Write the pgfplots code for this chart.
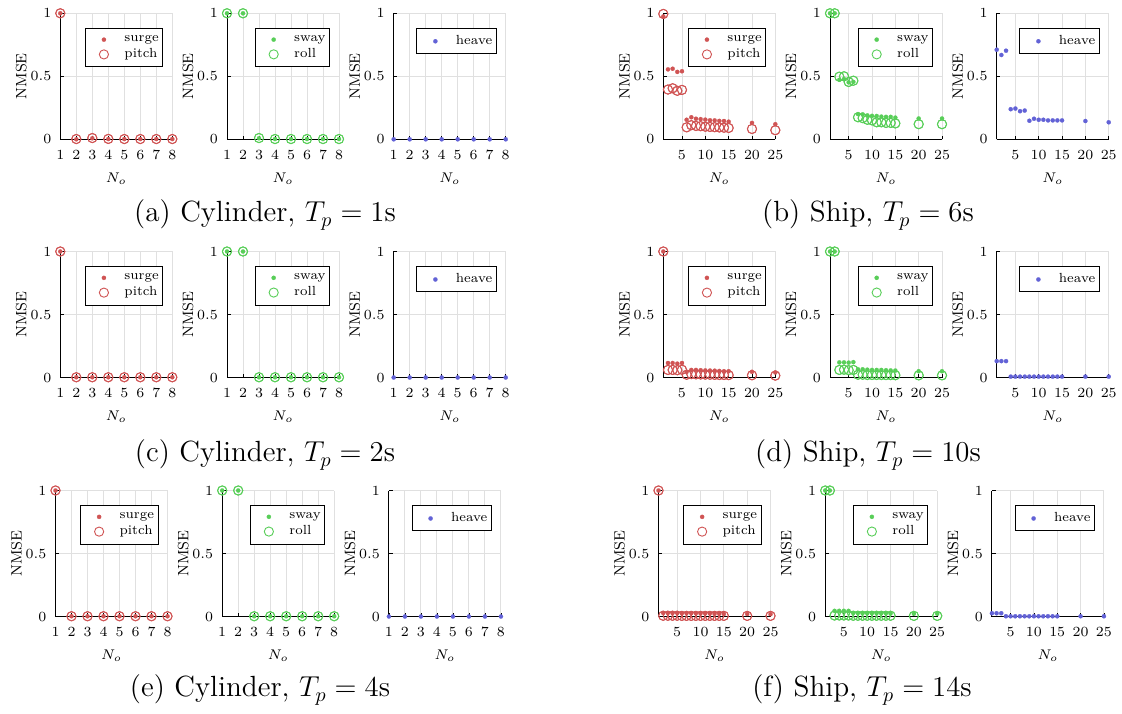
\documentclass[border=0pt]{standalone}
\usepackage{pgfplots}
\usepackage{pgfplotstable}
\pgfplotsset{compat=1.18}
\definecolor{cr}{RGB}{208,84,84}
\definecolor{cg}{RGB}{88,206,88}
\definecolor{cb}{RGB}{98,98,214}

\pgfplotstableread{
x surge pitch sway roll heave
1 1 1 1 1 0
2 0 0.002 1 1 0
3 0.008 0.01 0.008 0.01 0
4 0.002 0.003 0.002 0.002 0
5 0.002 0.002 0.002 0.002 0
6 0.002 0.002 0.002 0.002 0
7 0.002 0.002 0.002 0.002 0
8 0.002 0.002 0.002 0.002 0
}\cylA
\pgfplotstableread{
x surge pitch sway roll heave
1 1 1 1 1 0
2 0.002 0.002 1 1 0
3 0.002 0.002 0.002 0.002 0
4 0.002 0.002 0.002 0.002 0
5 0.002 0.002 0.002 0.002 0
6 0.002 0.002 0.002 0.002 0
7 0.002 0.002 0.002 0.002 0
8 0.002 0.002 0.002 0.002 0
}\cylB
\pgfplotstableread{
x surge pitch sway roll heave
1 0.975 0.995 1 1 0.711
2 0.555 0.395 1 1 0.669
3 0.560 0.405 0.472 0.497 0.703
4 0.535 0.385 0.478 0.500 0.239
5 0.540 0.392 0.452 0.455 0.244
6 0.155 0.095 0.456 0.465 0.223
7 0.175 0.112 0.200 0.175 0.228
8 0.163 0.106 0.198 0.168 0.147
9 0.160 0.104 0.190 0.155 0.163
10 0.156 0.100 0.186 0.150 0.155
11 0.151 0.098 0.185 0.135 0.155
12 0.150 0.096 0.180 0.135 0.150
13 0.146 0.094 0.178 0.130 0.150
14 0.145 0.092 0.178 0.130 0.150
15 0.140 0.090 0.172 0.126 0.150
20 0.130 0.082 0.165 0.120 0.145
25 0.120 0.072 0.165 0.120 0.135
}\shipB
\pgfplotstableread{
x surge pitch sway roll heave
1 1 1 1 1 0.13
2 0.115 0.060 1 1 0.13
3 0.115 0.060 0.120 0.060 0.13
4 0.110 0.058 0.120 0.062 0.007
5 0.115 0.062 0.118 0.058 0.007
6 0.045 0.022 0.122 0.060 0.007
7 0.060 0.027 0.065 0.022 0.007
8 0.060 0.025 0.065 0.022 0.007
9 0.058 0.024 0.062 0.020 0.007
10 0.056 0.023 0.060 0.020 0.007
11 0.055 0.022 0.060 0.020 0.007
12 0.054 0.021 0.060 0.020 0.007
13 0.052 0.020 0.058 0.019 0.007
14 0.050 0.020 0.056 0.019 0.007
15 0.050 0.019 0.055 0.018 0.007
20 0.045 0.018 0.050 0.017 0.007
25 0.040 0.015 0.050 0.017 0.007
}\shipD
\pgfplotstableread{
x surge pitch sway roll heave
1 1 1 1 1 0.026
2 0.028 0.006 1 1 0.026
3 0.028 0.006 0.045 0.008 0.026
4 0.028 0.006 0.045 0.008 0.002
5 0.028 0.006 0.045 0.008 0.002
6 0.025 0.005 0.045 0.008 0.002
7 0.027 0.005 0.027 0.006 0.002
8 0.027 0.005 0.027 0.006 0.002
9 0.026 0.005 0.026 0.006 0.002
10 0.025 0.005 0.026 0.006 0.002
11 0.025 0.005 0.026 0.006 0.002
12 0.024 0.005 0.026 0.006 0.002
13 0.022 0.005 0.025 0.006 0.002
14 0.022 0.005 0.025 0.006 0.002
15 0.020 0.005 0.024 0.006 0.002
20 0.020 0.005 0.022 0.005 0.002
25 0.018 0.005 0.022 0.005 0.002
}\shipF

\pgfplotsset{
  panel/.style={
    scale only axis, width=56pt, height=63pt, anchor=south west,
    ymin=0, ymax=1, ytick={0,0.5,1},
    axis lines*=left, axis line style={line width=0.5pt, black},
    grid=major, major grid style={black!12, line width=0.45pt},
    tick style={black, line width=0.4pt}, major tick length=1.8pt, tick align=inside,
    clip=false,
    ylabel={NMSE}, xlabel={$N_o$},
    tick label style={font=\fontsize{7.5}{9}\selectfont},
    label style={font=\fontsize{7.5}{9}\selectfont},
    xticklabel shift=2pt, yticklabel shift=1pt,
    ylabel shift=-5pt, xlabel shift=0pt,
    legend cell align=left,
    legend style={at={(0.92,0.881)}, anchor=north east,
      font=\fontsize{6.6}{7.6}\selectfont, draw=black, line width=0.5pt,
      inner xsep=0pt, inner ysep=2pt, row sep=-0.3pt,
      nodes={inner xsep=2pt, inner ysep=1.2pt}},
  },
  cyl/.style={xmin=1, xmax=8, xtick={1,...,8}},
  ship/.style={xmin=1, xmax=25, xtick={5,10,15,20,25}},
  dot/.style={only marks, mark=*, mark size=1.05pt, mark options={line width=0.1pt},
    legend image code/.code={\path (0pt,0pt) (17pt,0pt); \draw[##1] plot coordinates {(9pt,0pt)};}},
  circ/.style={only marks, mark=o, mark size=2.3pt, mark options={line width=0.45pt},
    legend image code/.code={\path (0pt,0pt) (17pt,0pt); \draw[##1] plot coordinates {(9pt,0pt)};}},
}

\newcommand{\trio}[6]{%
\begin{axis}[panel,#6,at={(#2pt,#5pt)}]
\addplot[circ,cr,forget plot] table[x=x,y=pitch]{#1};
\addplot[dot,cr] table[x=x,y=surge]{#1}; \addlegendentry{surge}
\addplot[circ,cr] table[x=x,y=pitch]{#1}; \addlegendentry{pitch}
\end{axis}
\begin{axis}[panel,#6,at={(#3pt,#5pt)}]
\addplot[circ,cg,forget plot] table[x=x,y=roll]{#1};
\addplot[dot,cg] table[x=x,y=sway]{#1}; \addlegendentry{sway}
\addplot[circ,cg] table[x=x,y=roll]{#1}; \addlegendentry{roll}
\end{axis}
\begin{axis}[panel,#6,at={(#4pt,#5pt)}]
\addplot[dot,cb] table[x=x,y=heave]{#1}; \addlegendentry{heave}
\end{axis}}

\begin{document}
\begin{tikzpicture}
\useasboundingbox (0pt,0pt) rectangle (561pt,356.5pt);
\trio{\cylA}{30.15}{113.5}{196.85}{286.85}{cyl}
\trio{\shipB}{331.65}{415}{498.35}{286.85}{ship}
\trio{\cylB}{30.15}{113.5}{196.85}{167.75}{cyl}
\trio{\shipD}{331.65}{415}{498.35}{167.75}{ship}
\trio{\cylB}{27.75}{111.1}{194.45}{48.25}{cyl}
\trio{\shipF}{329.25}{412.6}{495.95}{48.25}{ship}
\begin{scope}[every node/.style={font=\fontsize{14.6}{17}\selectfont}]
\node at (132.5pt,249pt) {(a) Cylinder, $T_p = 1$s};
\node at (434pt,249pt) {(b) Ship, $T_p = 6$s};
\node at (132.5pt,129pt) {(c) Cylinder, $T_p = 2$s};
\node at (434pt,129pt) {(d) Ship, $T_p = 10$s};
\node at (130pt,11.5pt) {(e) Cylinder, $T_p = 4$s};
\node at (431pt,11.5pt) {(f) Ship, $T_p = 14$s};
\end{scope}
\end{tikzpicture}
\end{document}
